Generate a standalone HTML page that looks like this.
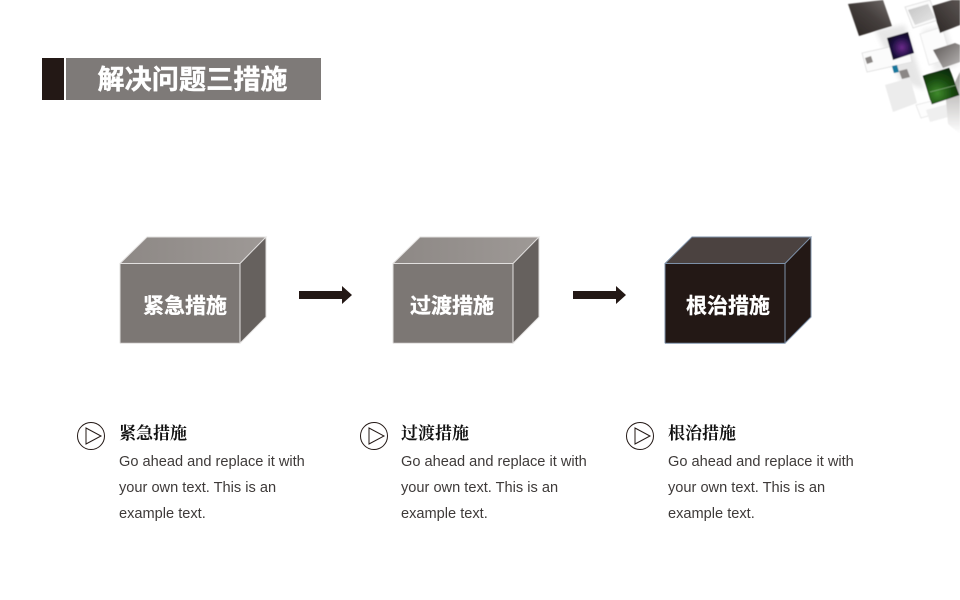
<!DOCTYPE html>
<html>
<head>
<meta charset="utf-8">
<style>
html,body{margin:0;padding:0;background:#fff;width:960px;height:600px;overflow:hidden}
svg{display:block}
.s{font-family:"Liberation Sans","Noto Sans CJK SC",sans-serif}
.b{font-family:"Liberation Serif","Noto Serif CJK SC",serif}
</style>
</head>
<body>
<svg width="960" height="600" viewBox="0 0 960 600" xmlns="http://www.w3.org/2000/svg">
<defs>
<filter id="soft" x="-10%" y="-10%" width="120%" height="120%"><feGaussianBlur stdDeviation="0.5"/></filter>
<filter id="haze" x="-30%" y="-30%" width="160%" height="160%"><feGaussianBlur stdDeviation="2.5"/></filter>
<linearGradient id="dk" x1="0" y1="1" x2="1" y2="0"><stop offset="0" stop-color="#2a2422"/><stop offset="0.55" stop-color="#453f3d"/><stop offset="1" stop-color="#736e6c"/></linearGradient>
<linearGradient id="dk2" x1="0" y1="1" x2="1" y2="0"><stop offset="0" stop-color="#2a2422"/><stop offset="1" stop-color="#5a5452"/></linearGradient>
<linearGradient id="gy" x1="0" y1="0" x2="1" y2="1"><stop offset="0" stop-color="#5c5755"/><stop offset="1" stop-color="#b8b5b4"/></linearGradient>
<linearGradient id="lg" x1="0" y1="0" x2="1" y2="1"><stop offset="0" stop-color="#c4c4c4"/><stop offset="1" stop-color="#e8e8e8"/></linearGradient>
<linearGradient id="fade" x1="0" y1="0" x2="0" y2="1"><stop offset="0" stop-color="#a3a09e"/><stop offset="1" stop-color="#ffffff"/></linearGradient>
<radialGradient id="pur" cx="0.55" cy="0.55" r="0.6"><stop offset="0" stop-color="#6a2a8a"/><stop offset="0.6" stop-color="#1d1040"/><stop offset="1" stop-color="#0c0a18"/></radialGradient>
<radialGradient id="grn" cx="0.4" cy="0.7" r="0.7"><stop offset="0" stop-color="#3f8a2c"/><stop offset="0.6" stop-color="#17480f"/><stop offset="1" stop-color="#0c2a08"/></radialGradient>
<linearGradient id="top1" x1="0" y1="0" x2="1" y2="0"><stop offset="0" stop-color="#8d8885"/><stop offset="1" stop-color="#9e9996"/></linearGradient>
</defs>

<!-- corner decoration -->
<g filter="url(#soft)">
<polygon points="875,30 905,25 925,90 900,80" fill="#e6e6e6" filter="url(#haze)"/>
<polygon points="922,30 945,25 958,65 935,72" fill="#eeeeee" filter="url(#haze)"/>
<polygon points="905,7 930,0 938,20 913,28" fill="#fbfbfb" stroke="#dcdcdc" stroke-width="0.8"/>
<polygon points="862,53 908,43 912,62 867,72" fill="#fbfbfb" stroke="#dedede" stroke-width="0.8"/>
<polygon points="908,10 928,4 935,18 915,25" fill="url(#lg)"/>
<polygon points="920,34 942,27 951,58 929,65" fill="#fcfcfc" stroke="#e6e6e6" stroke-width="0.8"/>
<polygon points="885,85 910,78 917,103 893,112" fill="#ececec"/>
<polygon points="916,105 952,96 956,108 921,118" fill="#fdfdfd" stroke="#e4e4e4" stroke-width="0.8"/>
<polygon points="926,110 948,104 952,116 930,122" fill="#efefef"/>
<polygon points="946,100 960,72 960,134 948,124" fill="url(#fade)"/>
<polygon points="848,4 883,0 892,26 859,36" fill="url(#dk)"/>
<polygon points="932,6 952,0 960,0 960,25 940,33" fill="url(#dk2)"/>
<polygon points="933,50 955,43 960,45 960,62 943,68" fill="url(#gy)"/>
<polygon points="887,38 908,32 914,53 893,60" fill="url(#pur)"/>
<polygon points="923,76 949,68 959,95 932,104" fill="url(#grn)" stroke="#0a1d06" stroke-width="0.6"/>
<line x1="930" y1="92" x2="957" y2="85" stroke="#8fb685" stroke-width="0.6"/>
<polygon points="865,58 871,56 873,62 867,64" fill="#8a8684"/>
<polygon points="892,66 897,65 899,72 894,73" fill="#15779c"/>
<polygon points="899,71 907,69 910,77 902,79" fill="#8b8785"/>
</g>

<!-- title -->
<rect x="42" y="58" width="22" height="42" fill="#231815"/>
<rect x="66" y="58" width="255" height="42" fill="#7e7a78"/>
<text x="192.500" y="89" text-anchor="middle" class="s" font-size="27" font-weight="700" fill="#fff" stroke="#fff" stroke-width="0.4" textLength="190" lengthAdjust="spacing">解决问题三措施</text>

<!-- cube 1 -->
<polygon points="120,264 147,237 266,237 240,264" fill="url(#top1)"/>
<polygon points="240,264 266,237 266,317 240,343" fill="#66615e"/>
<rect x="120" y="264" width="120" height="79" fill="#7c7774"/>
<path d="M120,343.200V263.500H240V343.200H120M120,263.500L147,237H266L240,263.500M240,343.200L266,317V237" fill="none" stroke="#e2e0df" stroke-width="1"/>
<text x="185" y="313" text-anchor="middle" class="s" font-size="21" font-weight="700" fill="#fff" stroke="#fff" stroke-width="0.3">紧急措施</text>

<!-- cube 2 -->
<polygon points="393,264 420,237 539,237 513,264" fill="url(#top1)"/>
<polygon points="513,264 539,237 539,317 513,343" fill="#66615e"/>
<rect x="393" y="264" width="120" height="79" fill="#7c7774"/>
<path d="M393,343.200V263.500H513V343.200H393M393,263.500L420,237H539L513,263.500M513,343.200L539,317V237" fill="none" stroke="#e2e0df" stroke-width="1"/>
<text x="452" y="313" text-anchor="middle" class="s" font-size="21" font-weight="700" fill="#fff" stroke="#fff" stroke-width="0.3">过渡措施</text>

<!-- cube 3 -->
<polygon points="665,264 692,237 811,237 785,264" fill="#4b4240"/>
<polygon points="785,264 811,237 811,317 785,343" fill="#231815"/>
<rect x="665" y="264" width="120" height="79" fill="#231815"/>
<path d="M665,343.200V263.500H785V343.200H665M665,263.500L692,237H811L785,263.500M785,343.200L811,317V237" fill="none" stroke="#7d90a8" stroke-width="1"/>
<text x="728" y="313" text-anchor="middle" class="s" font-size="21" font-weight="700" fill="#fff" stroke="#fff" stroke-width="0.3">根治措施</text>

<!-- arrows -->
<polygon points="299,291 342,291 342,286 352,295 342,304 342,299 299,299" fill="#231815"/>
<polygon points="573,291 616,291 616,286 626,295 616,304 616,299 573,299" fill="#231815"/>

<!-- items -->
<g fill="none" stroke="#231815" stroke-width="1">
<circle cx="91" cy="436" r="13.500"/><polygon points="86,428 86,444 101,436"/>
<circle cx="374" cy="436" r="13.500"/><polygon points="369,428 369,444 384,436"/>
<circle cx="640" cy="436" r="13.500"/><polygon points="635,428 635,444 650,436"/>
</g>

<g class="b" font-size="17" font-weight="700" fill="#111">
<text x="119" y="439">紧急措施</text>
<text x="401" y="439">过渡措施</text>
<text x="668" y="439">根治措施</text>
</g>

<g class="s" font-size="14.600" fill="#3e3a39">
<text x="119" y="466">Go ahead and replace it with</text>
<text x="119" y="492">your own text. This is an</text>
<text x="119" y="518">example text.</text>
<text x="401" y="466">Go ahead and replace it with</text>
<text x="401" y="492">your own text. This is an</text>
<text x="401" y="518">example text.</text>
<text x="668" y="466">Go ahead and replace it with</text>
<text x="668" y="492">your own text. This is an</text>
<text x="668" y="518">example text.</text>
</g>
</svg>
</body>
</html>
